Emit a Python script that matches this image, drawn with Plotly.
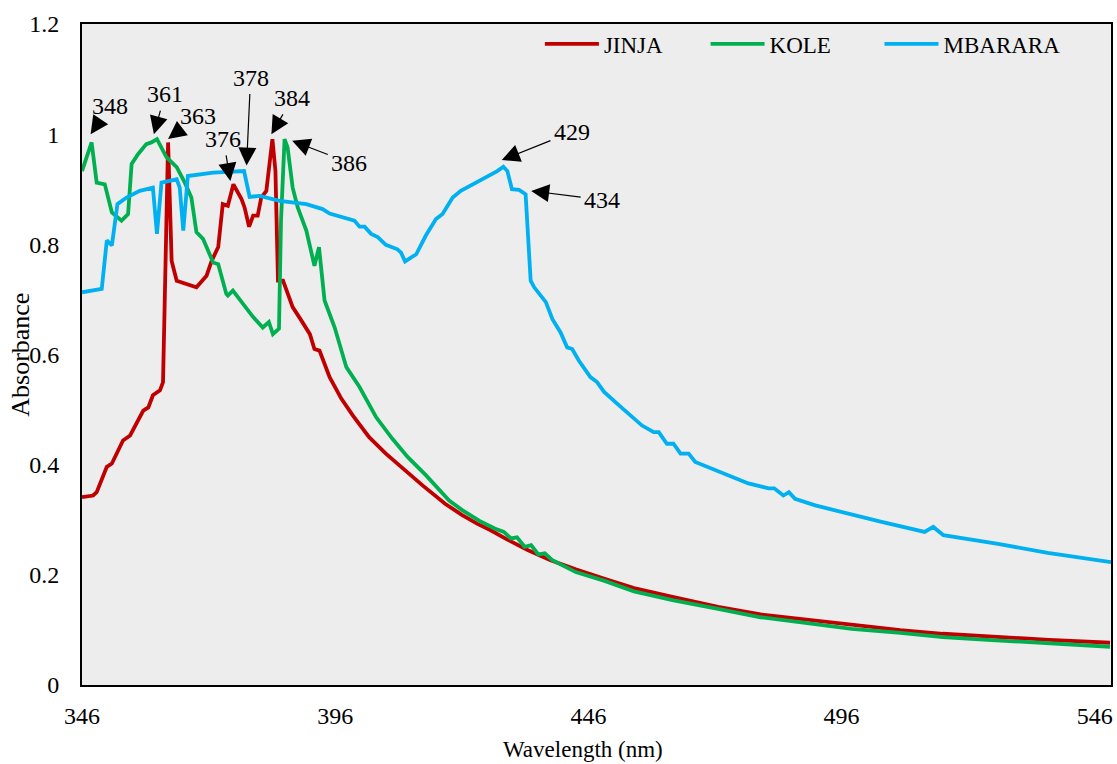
import plotly.graph_objects as go

# ---- data ----
jinja_wl = [346.0, 348.2, 348.9, 350.9, 351.9, 354.1, 355.5, 358.1, 359.1, 360.0, 361.4, 362.0,
            363.0, 363.7, 364.7, 366.6, 368.6, 370.6, 371.6, 372.9, 373.8, 374.8, 375.9, 377.5,
            378.1, 379.0, 379.8, 380.7, 381.4, 382.4, 383.6, 384.2, 384.7, 385.7, 386.6, 387.6,
            389.3, 390.3, 391.0, 391.9, 392.9, 394.9, 397.2, 399.5, 402.7, 406.0, 409.3, 413.3,
            417.7, 421.0, 424.0, 426.7, 430.0, 434.0, 438.4, 443.5, 449.2, 455.0, 462.6, 471.6,
            480.0, 489.6, 498.0, 507.6, 516.0, 525.6, 537.0, 549.0]
jinja_ab = [0.341, 0.344, 0.350, 0.396, 0.402, 0.444, 0.453, 0.498, 0.504, 0.526, 0.535, 0.550,
            0.985, 0.770, 0.734, 0.728, 0.722, 0.743, 0.770, 0.795, 0.873, 0.870, 0.909, 0.882,
            0.867, 0.832, 0.852, 0.852, 0.885, 0.897, 0.991, 0.933, 0.734, 0.734, 0.710, 0.686,
            0.662, 0.649, 0.637, 0.610, 0.607, 0.559, 0.520, 0.489, 0.450, 0.420, 0.393, 0.362,
            0.329, 0.309, 0.293, 0.281, 0.264, 0.245, 0.227, 0.210, 0.193, 0.176, 0.160, 0.142,
            0.128, 0.118, 0.108, 0.0997, 0.093, 0.0876, 0.082, 0.0767]

kole_wl = [346.0, 347.9, 348.9, 350.5, 351.9, 353.8, 355.1, 355.8, 357.1, 358.7, 359.7, 360.8,
           362.7, 364.7, 366.3, 367.6, 368.6, 369.9, 371.9, 372.9, 374.5, 374.8, 375.8, 378.1,
           379.8, 381.7, 382.9, 383.7, 384.9, 385.3, 386.0, 386.6, 387.6, 388.6, 390.3, 391.9,
           392.8, 393.9, 395.9, 398.2, 400.8, 404.1, 407.3, 410.3, 413.9, 418.5, 421.0, 424.5,
           427.5, 429.3, 430.7, 431.9, 433.4, 434.7, 436.1, 437.4, 438.8, 443.5, 449.2, 455.0,
           462.6, 471.6, 480.0, 489.6, 498.0, 507.6, 516.0, 525.6, 537.0, 549.0]
kole_ab = [0.933, 0.985, 0.912, 0.909, 0.858, 0.843, 0.855, 0.946, 0.964, 0.982, 0.985, 0.991,
           0.958, 0.940, 0.912, 0.885, 0.822, 0.810, 0.767, 0.764, 0.710, 0.707, 0.716, 0.689,
           0.668, 0.649, 0.659, 0.637, 0.647, 0.843, 0.991, 0.976, 0.903, 0.867, 0.825, 0.761,
           0.795, 0.698, 0.649, 0.577, 0.541, 0.486, 0.447, 0.414, 0.381, 0.335, 0.318, 0.298,
           0.284, 0.278, 0.266, 0.268, 0.251, 0.254, 0.237, 0.239, 0.227, 0.205, 0.189, 0.170,
           0.154, 0.138, 0.123, 0.112, 0.102, 0.0946, 0.087, 0.0816, 0.075, 0.0694]

mbarara_wl = [346.0, 349.9, 350.9, 351.9, 353.0, 354.8, 357.4, 359.4, 360.0, 360.8, 361.7, 364.7,
              365.3, 366.0, 366.9, 371.9, 377.5, 378.0, 379.1, 381.1, 385.0, 390.3, 393.5, 394.9,
              399.8, 400.8, 401.8, 403.1, 404.4, 406.0, 408.3, 409.0, 409.8, 412.0, 413.9, 415.9,
              417.2, 419.2, 420.8, 424.4, 428.0, 429.2, 430.0, 430.9, 432.3, 433.6, 434.6, 435.3,
              437.6, 438.9, 440.5, 441.8, 442.8, 444.1, 446.4, 447.7, 449.1, 452.0, 456.6, 458.9,
              459.9, 461.5, 462.8, 464.2, 465.8, 467.1, 470.4, 472.4, 474.3, 475.0, 477.6, 480.2,
              481.6, 482.7, 484.5, 485.6, 486.8, 490.8, 497.3, 503.9, 512.4, 514.1, 516.1, 520.5,
              526.9, 536.7, 549.2]
mbarara_ab = [0.713, 0.719, 0.807, 0.798, 0.873, 0.885, 0.897, 0.903, 0.903, 0.819, 0.912, 0.918,
              0.903, 0.825, 0.924, 0.930, 0.933, 0.933, 0.886, 0.888, 0.879, 0.873, 0.864, 0.856,
              0.843, 0.832, 0.832, 0.819, 0.813, 0.799, 0.791, 0.785, 0.769, 0.782, 0.816, 0.846,
              0.855, 0.885, 0.897, 0.915, 0.933, 0.941, 0.933, 0.900, 0.899, 0.891, 0.734, 0.722,
              0.695, 0.664, 0.640, 0.613, 0.610, 0.589, 0.559, 0.550, 0.532, 0.508, 0.471, 0.459,
              0.459, 0.438, 0.438, 0.420, 0.420, 0.405, 0.393, 0.384, 0.378, 0.375, 0.366, 0.360,
              0.357, 0.357, 0.344, 0.350, 0.338, 0.326, 0.311, 0.296, 0.278, 0.287, 0.272, 0.266,
              0.256, 0.240, 0.223]

# peak labels: text, arrow tip (wavelength, absorbance), text offset in px
peak_labels = ["348", "361", "363", "376", "378", "384", "386", "429", "434"]
peak_wl = [347.7, 360.2, 363.0, 375.3, 378.5, 383.4, 387.5, 428.9, 434.7]
peak_ab = [1.000, 1.000, 0.991, 0.915, 0.943, 1.000, 0.988, 0.953, 0.897]
peak_ax = [19, 11, 30, -7, 4, 21, 57, 70, 71]
peak_ay = [-28, -40, -23, -42, -88, -36, 22, -28, 9]

x_ticks = [346, 396, 446, 496, 546]
y_ticks = [0, 0.2, 0.4, 0.6, 0.8, 1.0, 1.2]

FONT = "Liberation Serif"

fig = go.Figure()
fig.add_trace(go.Scatter(x=jinja_wl, y=jinja_ab, mode="lines", name="JINJA", legend="legend",
                         line=dict(color="#C00000", width=3.8)))
fig.add_trace(go.Scatter(x=kole_wl, y=kole_ab, mode="lines", name="KOLE", legend="legend2",
                         line=dict(color="#00B050", width=3.8)))
fig.add_trace(go.Scatter(x=mbarara_wl, y=mbarara_ab, mode="lines", name="MBARARA", legend="legend3",
                         line=dict(color="#00B0F0", width=3.8)))

for t, xw, ya, ax, ay in zip(peak_labels, peak_wl, peak_ab, peak_ax, peak_ay):
    fig.add_annotation(x=xw, y=ya, xref="x", yref="y", text=t, showarrow=True,
                       ax=ax, ay=ay, arrowhead=2, arrowsize=3.0, arrowwidth=1.2,
                       arrowcolor="black", standoff=0, startstandoff=2,
                       font=dict(family=FONT, size=24, color="black"))

fig.add_annotation(x=0.487, y=-0.098, xref="paper", yref="paper", text="Wavelength (nm)",
                   showarrow=False, xanchor="center", yanchor="middle",
                   font=dict(family=FONT, size=23, color="black"))
fig.add_annotation(x=-0.060, y=0.5, xref="paper", yref="paper", text="Absorbance",
                   showarrow=False, textangle=-90, xanchor="center", yanchor="middle",
                   font=dict(family=FONT, size=26, color="black"))

leg_common = dict(orientation="h", y=0.97, xanchor="left", yanchor="middle",
                  bgcolor="rgba(0,0,0,0)", itemwidth=54,
                  font=dict(family=FONT, size=23, color="black"))

fig.update_layout(
    width=1117, height=764,
    margin=dict(l=82, r=4, t=24, b=79),
    paper_bgcolor="white", plot_bgcolor="#EDEDED",
    font=dict(family=FONT, size=23, color="black"),
    showlegend=True,
    legend=dict(x=0.445, **leg_common),
    legend2=dict(x=0.606, **leg_common),
    legend3=dict(x=0.775, **leg_common),
    xaxis=dict(range=[346, 549.2], tickvals=x_ticks, ticktext=[str(v) for v in x_ticks],
               showgrid=False, zeroline=False, showline=True, linecolor="black", linewidth=2,
               mirror=True, ticks="", ticklabelstandoff=8,
               tickfont=dict(family=FONT, size=24, color="black")),
    yaxis=dict(range=[0, 1.2], tickvals=y_ticks, ticktext=["0", "0.2", "0.4", "0.6", "0.8", "1", "1.2"],
               showgrid=False, zeroline=False, showline=True, linecolor="black", linewidth=2,
               mirror=True, ticks="", ticklabelstandoff=16,
               tickfont=dict(family=FONT, size=24, color="black")),
)

fig.write_html("out.html")
